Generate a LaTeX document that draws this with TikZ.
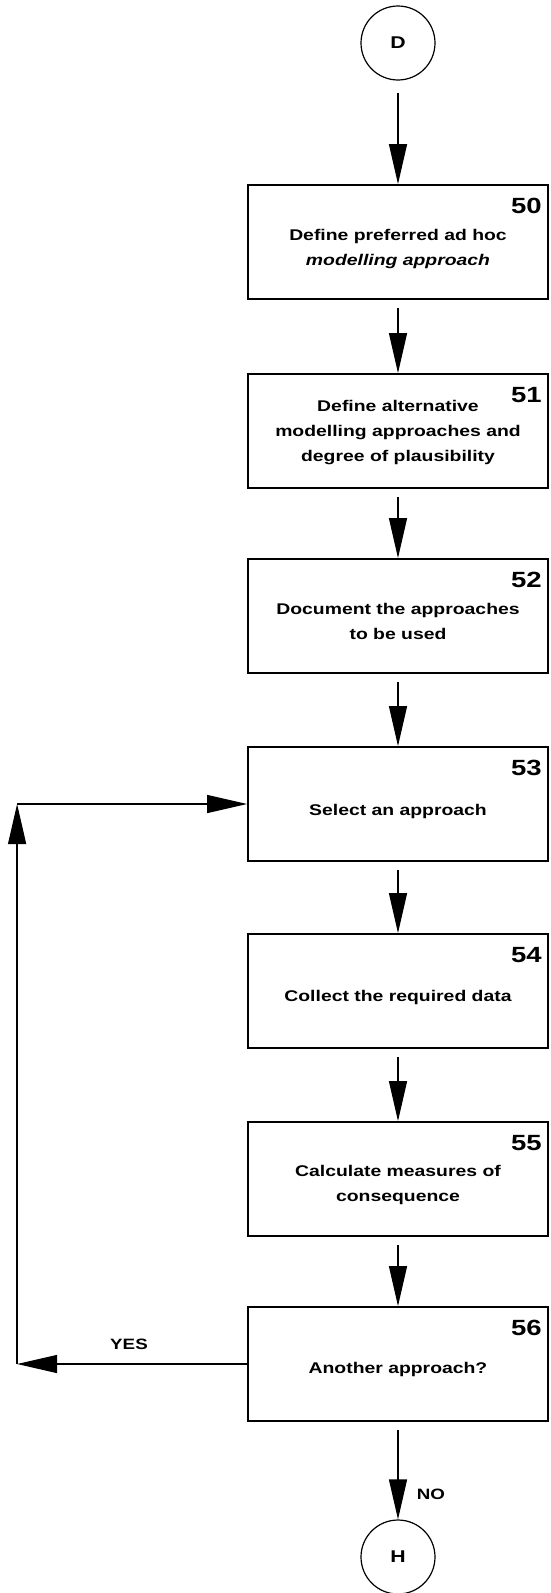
\documentclass[tikz,border=0pt]{standalone}
\usepackage{fontspec}
\setmainfont{Liberation Sans}[FakeStretch=1.25]
\usetikzlibrary{arrows.meta,calc}
\tikzset{
  stepbox/.style={draw, line width=1.8pt, minimum width=300pt, minimum height=114pt, inner sep=0pt},
  steptext/.style={align=center, inner sep=0pt, font=\bfseries\fontsize{15.5}{25}\selectfont},
  conn/.style={circle, draw, line width=1.2pt, minimum size=74pt, inner sep=0pt,
    font=\bfseries\fontsize{17}{19}\selectfont},
  num/.style={anchor=north east, inner sep=0pt, font=\bfseries\fontsize{22}{22}\selectfont},
  lbl/.style={inner sep=0pt, font=\bfseries\fontsize{15}{17}\selectfont},
  flow/.style={line width=1.3pt, -{Triangle[length=40pt,width=18pt]}},
}
\begin{document}
\begin{tikzpicture}[x=1pt,y=-1pt]
\useasboundingbox (0,0) rectangle (551,1593);
\node[conn] (D) at (398,43) {D};
\node[stepbox] (b50) at (398,242) {};
\node[stepbox] (b51) at (398,431) {};
\node[stepbox] (b52) at (398,616) {};
\node[stepbox] (b53) at (398,804) {};
\node[stepbox] (b54) at (398,991) {};
\node[stepbox] (b55) at (398,1179) {};
\node[stepbox] (b56) at (398,1364) {};
\node[steptext] (t50) at ([yshift=-7pt]b50.center) {Define preferred ad hoc\\\textit{modelling approach}};
\node[steptext] (t51) at ([yshift=-2pt]b51.center) {Define alternative\\modelling approaches and\\degree of plausibility};
\node[steptext] (t52) at ([yshift=-5pt]b52.center) {Document the approaches\\to be used};
\node[steptext] (t53) at ([yshift=-7pt]b53.center) {Select an approach};
\node[steptext] (t54) at ([yshift=-6pt]b54.center) {Collect the required data};
\node[steptext] (t55) at ([yshift=-6pt]b55.center) {Calculate measures of\\consequence};
\node[steptext] (t56) at ([yshift=-5pt]b56.center) {Another approach?};
\node[conn] (H) at (398,1557) {H};
\foreach \b/\n in {b50/50,b51/51,b52/52,b53/53,b54/54,b55/55,b56/56}
  \node[num] (n\n) at ([xshift=-7pt,yshift=-14pt]\b.north east) {\n};
\draw[flow, shorten <=12pt] (D) -- (b50);
\draw[flow, shorten <=8pt] (b50) -- (b51);
\draw[flow, shorten <=8pt] (b51) -- (b52);
\draw[flow, shorten <=8pt] (b52) -- (b53);
\draw[flow, shorten <=8pt] (b53) -- (b54);
\draw[flow, shorten <=8pt] (b54) -- (b55);
\draw[flow, shorten <=8pt] (b55) -- (b56);
\draw[flow, shorten <=8pt] (b56) -- (H);
\path (b56.west) ++(-230,0) coordinate (cA);
\coordinate (cB) at (cA |- b53.west);
\draw[flow] (b56.west) -- (cA);
\draw[flow] (cA) -- (cB);
\draw[flow] (cB) -- (b53.west);
\node[lbl] (yes) at (129,1344) {YES};
\node[lbl] (no) at (431,1494) {NO};
\end{tikzpicture}
\end{document}
